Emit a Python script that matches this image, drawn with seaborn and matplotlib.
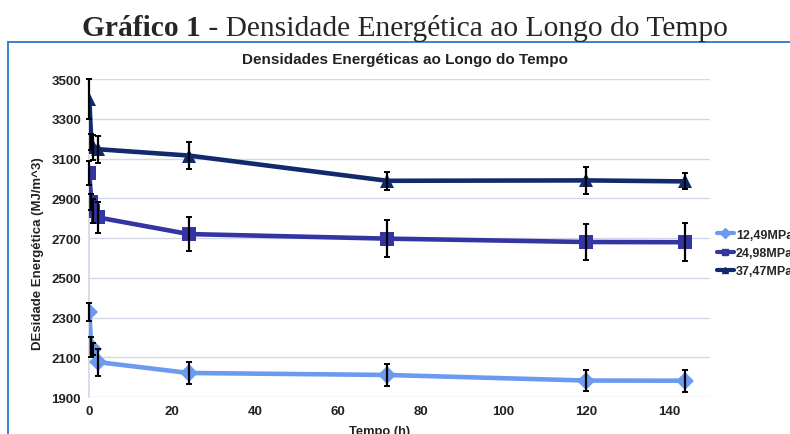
import pandas as pd
import matplotlib.pyplot as plt
import seaborn as sns
from matplotlib.lines import Line2D

# dados
tempo = [0, 0.5, 1, 2, 24, 72, 120, 144]
series = ['12,49MPa', '24,98MPa', '37,47MPa']
dens_1249 = [2330, 2153, 2141, 2076, 2021, 2011, 1983, 1982]
dens_2498 = [3027, 2882, 2837, 2804, 2720, 2697, 2680, 2679]
dens_3747 = [3400, 3181, 3156, 3147, 3115, 2988, 2990, 2985]
erro_1249 = [45, 50, 30, 68, 54, 55, 55, 56]
erro_2498 = [60, 40, 60, 77, 84, 93, 92, 95]
erro_3747 = [100, 40, 63, 67, 67, 45, 67, 40]

cores = ['#6b9bef', '#3434a2', '#102a6c']
marcadores = ['D', 's', '^']

df = pd.DataFrame({
    'Tempo': tempo * 3,
    'Densidade': dens_1249 + dens_2498 + dens_3747,
    'Erro': erro_1249 + erro_2498 + erro_3747,
    'Serie': [s for s in series for _ in tempo],
})

sns.set_theme(style='white')
plt.rcParams['font.family'] = ['Liberation Sans', 'DejaVu Sans']

fig = plt.figure(figsize=(7.9, 4.35), dpi=100)
ax = fig.add_axes([0.113, 0.085, 0.786, 0.731])

sns.lineplot(data=df, x='Tempo', y='Densidade', hue='Serie', style='Serie',
             palette=cores, markers=marcadores, dashes=False, linewidth=3.3,
             markersize=9.5, markeredgewidth=0, ax=ax, legend=False, zorder=3)

# barras de erro pretas por cima
for s in series:
    d = df[df['Serie'] == s]
    ax.errorbar(d['Tempo'], d['Densidade'], yerr=d['Erro'], fmt='none',
                ecolor='black', elinewidth=1.6, capsize=2.5, capthick=1.4,
                zorder=5, clip_on=False)

ax.set_xlim(0, 150)
ax.set_ylim(1900, 3500)
ax.set_xticks(range(0, 141, 20))
ax.set_yticks(range(1900, 3501, 200))
ax.grid(axis='y', color='#d3d7e8', linewidth=1)
for sp in ['top', 'right', 'bottom']:
    ax.spines[sp].set_visible(False)
ax.spines['left'].set_color('#d3d7e8')
ax.tick_params(axis='both', length=0, labelsize=9.5, labelcolor='#222222', pad=6)
for lab in ax.get_xticklabels() + ax.get_yticklabels():
    lab.set_fontweight('bold')
ax.set_xlabel('')
ax.set_ylabel('')

fig.text(0.048, 1 - 254 / 435, 'DEsidade Energética (MJ/m^3)', rotation=90, ha='center',
         va='center', fontsize=9.5, fontweight='bold', color='#222222')
fig.text(0.481, (435 - 426) / 435, 'Tempo (h)', ha='center', va='top',
         fontsize=9.3, fontweight='bold', color='#222222')
fig.text(0.513, 1 - 60 / 435, 'Densidades Energéticas ao Longo do Tempo',
         ha='center', va='center', fontsize=11, fontweight='bold', color='#222222')

# título externo em fonte serifada, centrado e com largura ajustada
y_tit = 1 - 29 / 435
t1 = fig.text(0, y_tit, 'Gráfico 1', ha='left', va='center', fontsize=20,
              fontweight='bold', family=['Liberation Serif'])
t2 = fig.text(0, y_tit, ' - Densidade Energética ao Longo do Tempo', ha='left',
              va='center', fontsize=20, family=['Liberation Serif'])
r = fig.canvas.get_renderer()
w1 = t1.get_window_extent(r).width
w2 = t2.get_window_extent(r).width
esc = 647 / (w1 + w2)
t1.set_fontsize(20 * esc)
t2.set_fontsize(20 * esc)
w1 *= esc
x0 = 405 - 647 / 2
t1.set_x(x0 / 790)
t2.set_x((x0 + w1) / 790)

# moldura azul
fig.add_artist(Line2D([8 / 790, 1.0], [1 - 43 / 435] * 2, color='#2b77c9', linewidth=1.3))
fig.add_artist(Line2D([8 / 790] * 2, [0, 1 - 43 / 435], color='#2b77c9', linewidth=1.3))

handles = [Line2D([], [], color=c, marker=m, markersize=5, linewidth=3)
           for c, m in zip(cores, marcadores)]
fig.legend(handles, series, loc='center left', bbox_to_anchor=(0.893, 1 - 254 / 435),
           frameon=False, handlelength=1.4, handletextpad=0.15, labelspacing=0.5,
           prop={'weight': 'bold', 'size': 9})

fig.savefig('out.png', dpi=100)
